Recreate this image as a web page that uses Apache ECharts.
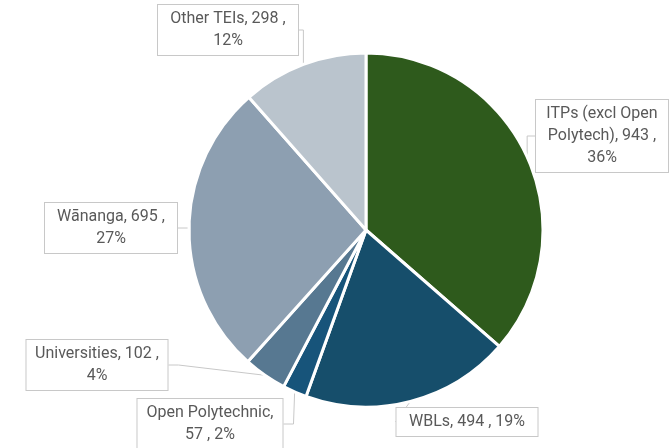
<!DOCTYPE html>
<html>
<head>
<meta charset="utf-8">
<script src="https://cdn.jsdelivr.net/npm/echarts@6/dist/echarts.min.js"></script>
<style>
  html, body { margin: 0; padding: 0; background: #fff; }
  #chart { width: 671px; height: 448px; }
</style>
</head>
<body>
<div id="chart"></div>
<script>
// segments, clockwise from 12 o'clock
const categories = ['ITPs (excl Open Polytech)', 'WBLs', 'Open Polytechnic', 'Universities', 'Wānanga', 'Other TEIs']
const values = [943, 494, 57, 102, 695, 298]
// how each label wraps (text only)
const labelFormats = [
  'ITPs (excl Open\nPolytech), {c} ,\n{d}%',
  '{b}, {c} , {d}%',
  '{b},\n{c} , {d}%',
  '{b}, {c} ,\n{d}%',
  '{b}, {c} ,\n{d}%',
  '{b}, {c} ,\n{d}%'
]
const colors = ['#2e5a1c', '#164e6b', '#17547a', '#577891', '#8d9fb1', '#bac4cd']

// callout boxes: centre point and inner text width
const labelSpots = [
  [602, 136],
  [467, 422],
  [210, 424],
  [97, 365],
  [111, 228],
  [228, 30]
]
const labelBoxWidths = [114, 123, 127, 123, 114, 122]

const chart = echarts.init(document.getElementById('chart'))

const seriesData = categories.map((name, i) => ({
  name: name,
  value: values[i],
  itemStyle: { color: colors[i] },
  label: { formatter: labelFormats[i], width: labelBoxWidths[i] }
}))

chart.setOption({
  animation: false,
  series: [
    {
      type: 'pie',
      center: [366, 230],
      radius: 177,
      startAngle: 90,
      clockwise: true,
      percentPrecision: 0,
      itemStyle: {
        borderColor: '#fff',
        borderWidth: 3
      },
      label: {
        show: true,
        position: 'outside',
        fontFamily: 'Roboto, sans-serif',
        fontSize: 16,
        lineHeight: 22,
        color: '#595959',
        align: 'center',
        overflow: 'none',
        backgroundColor: '#fff',
        borderColor: '#c8c8c8',
        borderWidth: 1,
        padding: [3, 9, 3, 9]
      },
      labelLine: {
        show: true,
        length: 10,
        length2: 10,
        lineStyle: { color: '#c8c8c8', width: 1 }
      },
      labelLayout: function (params) {
        const p = labelSpots[params.dataIndex]
        return {
          x: p[0],
          y: p[1],
          align: 'center',
          verticalAlign: 'middle'
        }
      },
      data: seriesData
    }
  ]
})
</script>
</body>
</html>
